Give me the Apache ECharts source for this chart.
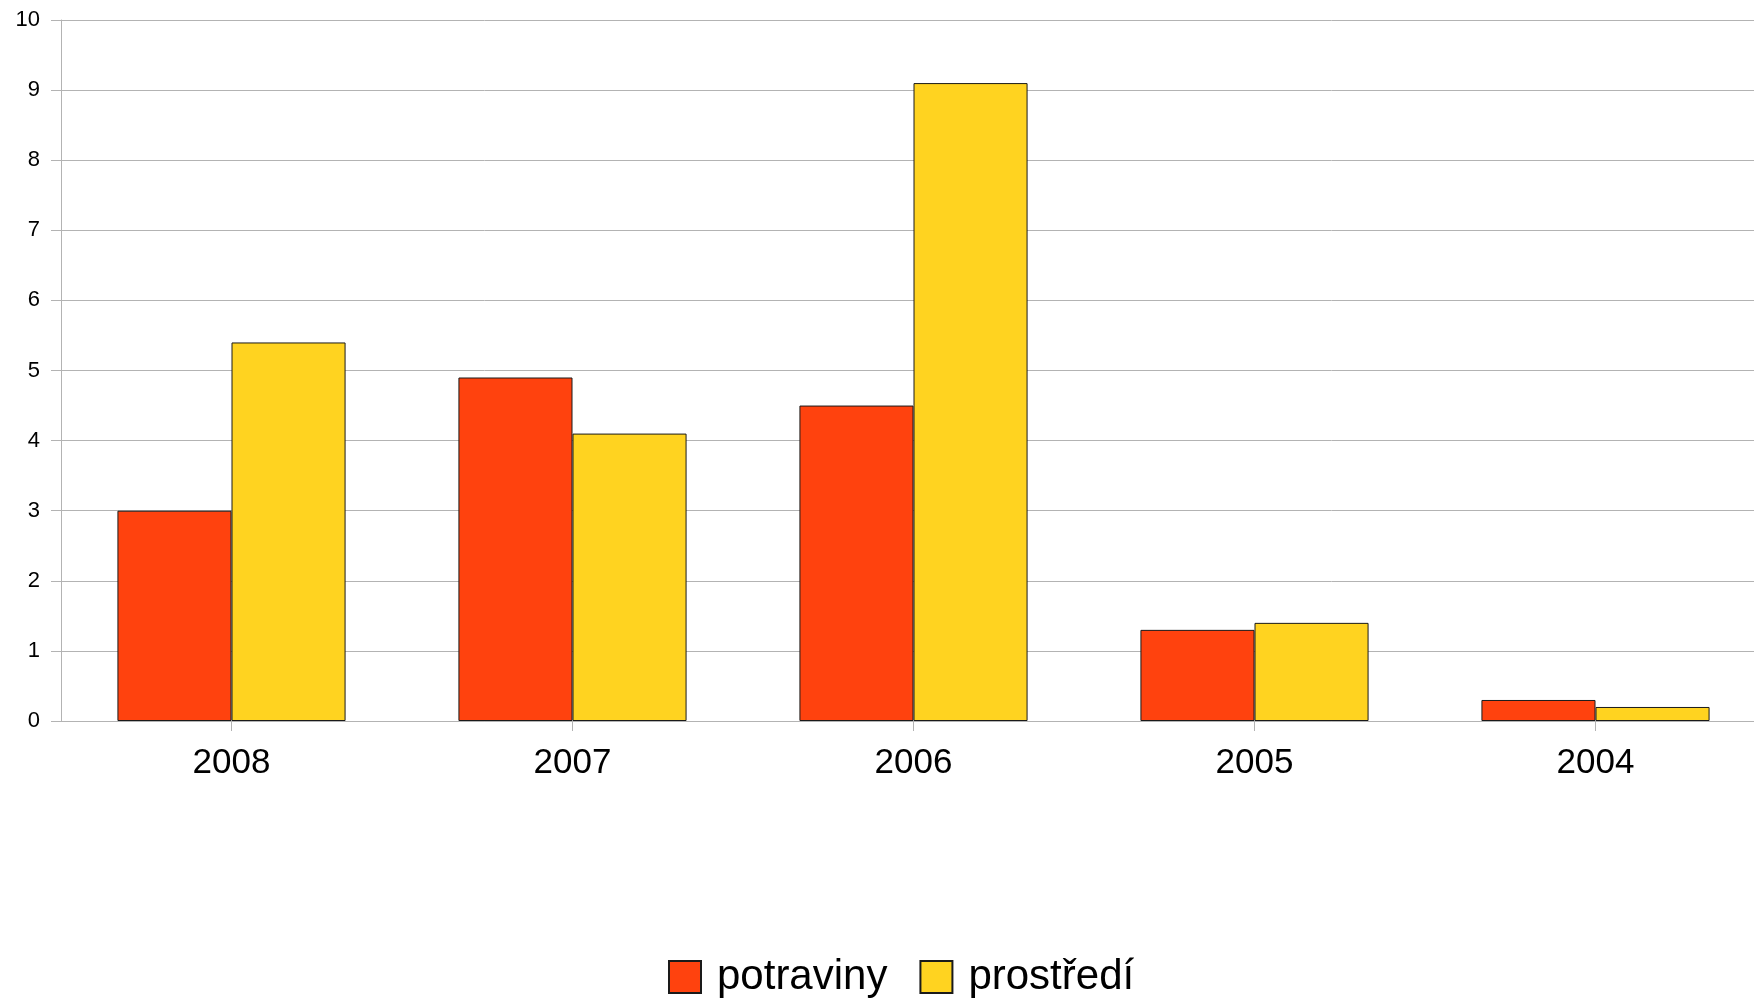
<!DOCTYPE html>
<html>
<head>
<meta charset="utf-8">
<script src="https://cdn.jsdelivr.net/npm/echarts@6/dist/echarts.min.js"></script>
<style>
  html, body { margin: 0; padding: 0; background: #fff; }
  #chart { width: 1754px; height: 1003px; }
</style>
</head>
<body>
<div id="chart"></div>
<script>
// Years along the category axis
const years = ['2008', '2007', '2006', '2005', '2004'];
// Series values
const potraviny = [3.0, 4.9, 4.5, 1.3, 0.3];
const prostredi = [5.4, 4.1, 9.1, 1.4, 0.2];
// Value axis range
const yMin = 0, yMax = 10, yStep = 1;

const FONT = '"Liberation Sans", Arial, sans-serif';
const GRID_GRAY = '#b3b3b3';

const chart = echarts.init(document.getElementById('chart'), null, { renderer: 'canvas' });
chart.setOption({
  animation: false,
  backgroundColor: '#ffffff',
  textStyle: { fontFamily: FONT },
  // the plot area runs a little past the right edge of the page
  grid: { left: 61, width: 1705, top: 20, height: 701, containLabel: false, outerBoundsMode: 'none' },
  legend: {
    left: 663,
    top: 951,
    itemWidth: 32,
    itemHeight: 32,
    itemGap: 32,
    icon: 'rect',
    textStyle: { fontSize: 42, color: '#000', fontFamily: FONT, padding: [3, 0, 0, 11] },
    data: ['potraviny', 'prostředí']
  },
  xAxis: {
    type: 'category',
    data: years,
    axisLine: { lineStyle: { color: GRID_GRAY, width: 1 } },
    axisTick: { show: true, length: 10, alignWithLabel: true, lineStyle: { color: GRID_GRAY } },
    axisLabel: { fontSize: 35, color: '#000', margin: 25, fontFamily: FONT },
    splitLine: { show: false }
  },
  yAxis: {
    type: 'value',
    min: yMin, max: yMax, interval: yStep,
    axisLine: { show: true, lineStyle: { color: GRID_GRAY, width: 1 } },
    axisTick: { show: true, length: 10, lineStyle: { color: GRID_GRAY } },
    axisLabel: { fontSize: 22, color: '#000', margin: 21, fontFamily: FONT },
    splitLine: { show: true, lineStyle: { color: GRID_GRAY, width: 1 } }
  },
  series: [
    {
      name: 'potraviny',
      type: 'bar',
      data: potraviny,
      barGap: '0%',
      barCategoryGap: '33.1%',
      itemStyle: { color: '#ff420e', borderColor: '#1a1a1a', borderWidth: 1 }
    },
    {
      name: 'prostředí',
      type: 'bar',
      data: prostredi,
      barGap: '0%',
      barCategoryGap: '33.1%',
      itemStyle: { color: '#ffd320', borderColor: '#1a1a1a', borderWidth: 1 }
    }
  ]
});
</script>
</body>
</html>
